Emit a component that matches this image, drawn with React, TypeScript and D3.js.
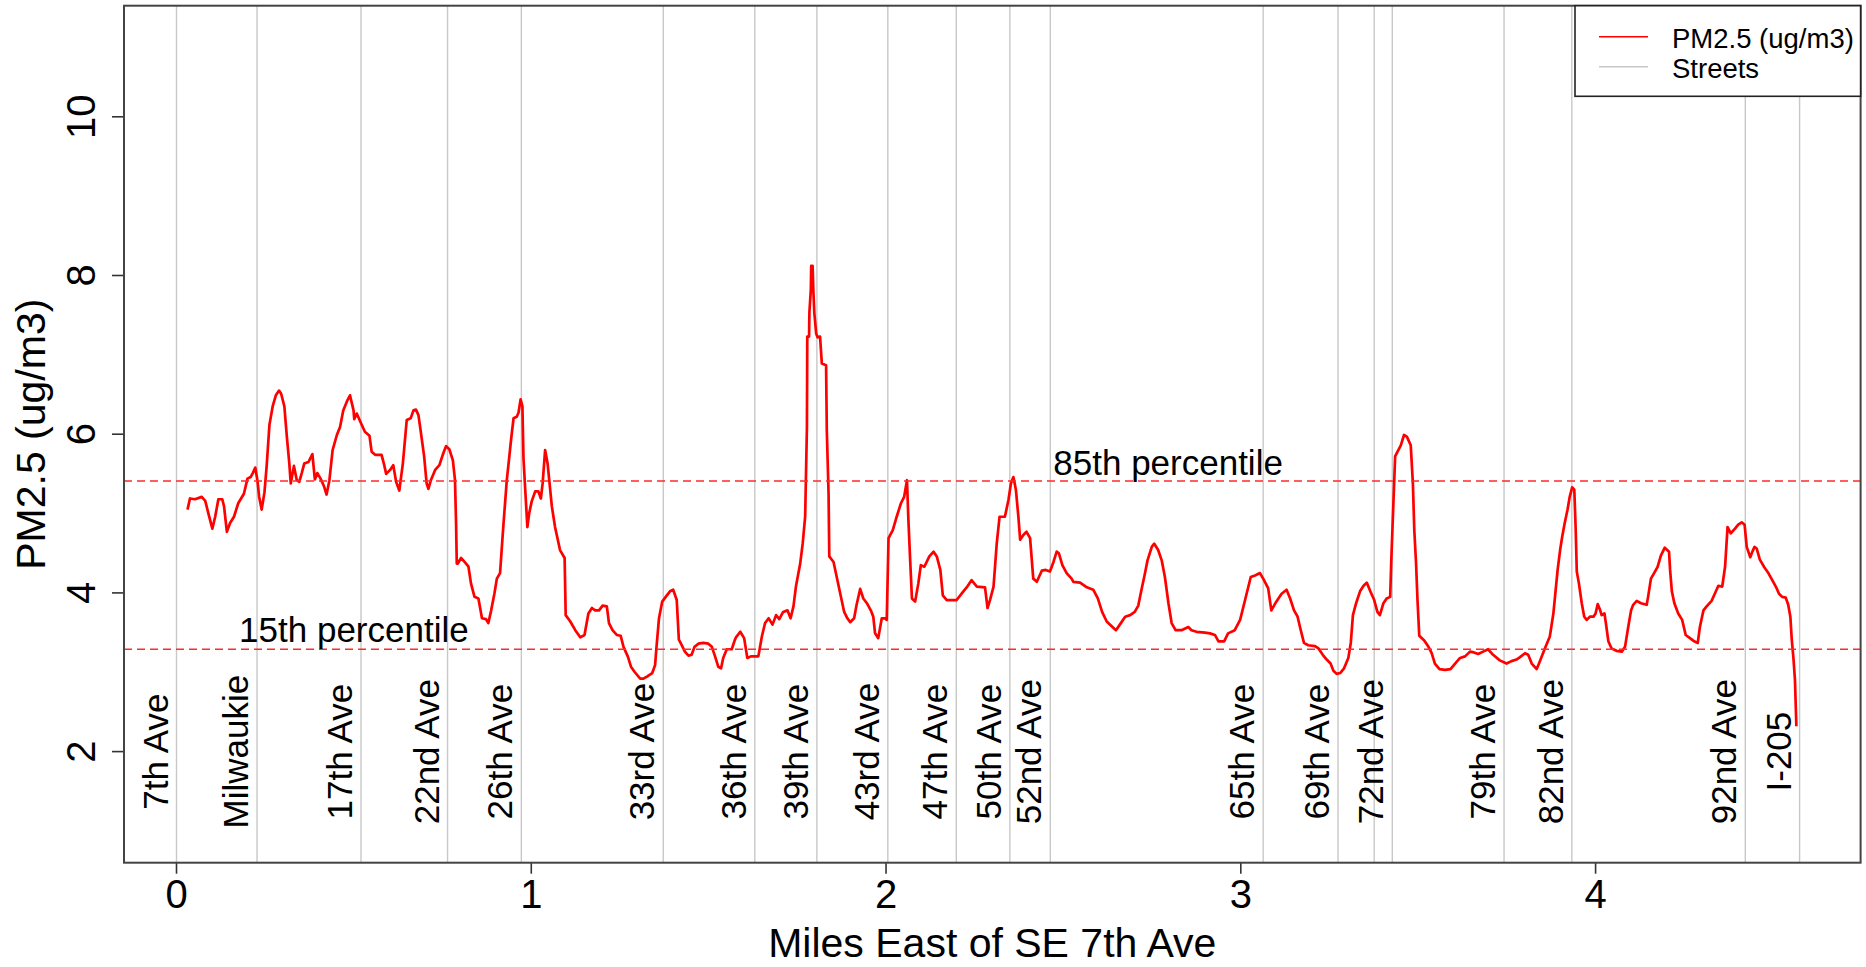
import React from 'react';
import * as d3 from 'd3';

// distance along the route (miles east of SE 7th Ave) and PM2.5 readings
const distMiles = [
  0.031, 0.038, 0.052, 0.071, 0.081, 0.090, 0.101, 0.109, 0.118, 0.129, 0.134, 0.142, 0.151, 0.162, 0.174, 0.190,
  0.200, 0.209, 0.215, 0.222, 0.228, 0.233, 0.240, 0.248, 0.254, 0.262, 0.271, 0.280, 0.289, 0.295, 0.304, 0.311,
  0.318, 0.322, 0.331, 0.339, 0.346, 0.353, 0.360, 0.372, 0.383, 0.390, 0.397, 0.406, 0.416, 0.423, 0.431, 0.440,
  0.452, 0.461, 0.470, 0.482, 0.489, 0.499, 0.501, 0.508, 0.522, 0.531, 0.544, 0.550, 0.560, 0.578, 0.585, 0.591,
  0.602, 0.611, 0.619, 0.628, 0.638, 0.649, 0.660, 0.668, 0.675, 0.682, 0.688, 0.698, 0.705, 0.710, 0.717, 0.729,
  0.741, 0.752, 0.760, 0.769, 0.779, 0.785, 0.788, 0.790, 0.793, 0.802, 0.812, 0.823, 0.830, 0.840, 0.851, 0.861,
  0.872, 0.879, 0.887, 0.896, 0.903, 0.912, 0.921, 0.931, 0.936, 0.943, 0.950, 0.959, 0.964, 0.970, 0.975, 0.978,
  0.983, 0.989, 0.994, 1.001, 1.011, 1.020, 1.027, 1.032, 1.039, 1.046, 1.058, 1.067, 1.081, 1.094, 1.097, 1.110,
  1.124, 1.138, 1.150, 1.161, 1.171, 1.180, 1.191, 1.201, 1.213, 1.219, 1.229, 1.241, 1.252, 1.260, 1.272, 1.281,
  1.292, 1.307, 1.316, 1.328, 1.341, 1.349, 1.353, 1.360, 1.369, 1.379, 1.391, 1.400, 1.410, 1.416, 1.423, 1.433,
  1.443, 1.452, 1.460, 1.471, 1.485, 1.499, 1.509, 1.518, 1.527, 1.535, 1.541, 1.551, 1.565, 1.574, 1.577, 1.589,
  1.600, 1.609, 1.619, 1.640, 1.650, 1.659, 1.669, 1.680, 1.690, 1.699, 1.710, 1.722, 1.731, 1.739, 1.746, 1.758,
  1.765, 1.772, 1.777, 1.778, 1.783, 1.784, 1.788, 1.789, 1.793, 1.795, 1.798, 1.803, 1.807, 1.814, 1.819, 1.831,
  1.833, 1.838, 1.840, 1.852, 1.861, 1.871, 1.882, 1.891, 1.899, 1.910, 1.917, 1.927, 1.936, 1.946, 1.957, 1.964,
  1.969, 1.978, 1.988, 1.997, 2.002, 2.007, 2.019, 2.030, 2.042, 2.051, 2.059, 2.063, 2.068, 2.073, 2.082, 2.091,
  2.098, 2.108, 2.122, 2.134, 2.143, 2.153, 2.160, 2.171, 2.199, 2.218, 2.229, 2.241, 2.256, 2.279, 2.286, 2.293,
  2.303, 2.312, 2.320, 2.335, 2.345, 2.352, 2.359, 2.366, 2.373, 2.378, 2.387, 2.396, 2.406, 2.415, 2.425, 2.439,
  2.450, 2.462, 2.472, 2.481, 2.487, 2.497, 2.509, 2.523, 2.528, 2.547, 2.566, 2.584, 2.597, 2.609, 2.622, 2.636,
  2.648, 2.659, 2.674, 2.688, 2.701, 2.711, 2.720, 2.730, 2.737, 2.749, 2.756, 2.767, 2.777, 2.786, 2.796, 2.805,
  2.816, 2.833, 2.852, 2.861, 2.875, 2.899, 2.913, 2.927, 2.937, 2.953, 2.964, 2.983, 2.998, 3.012, 3.028, 3.040,
  3.054, 3.063, 3.077, 3.086, 3.100, 3.115, 3.129, 3.139, 3.150, 3.160, 3.169, 3.178, 3.190, 3.209, 3.219, 3.231,
  3.242, 3.253, 3.261, 3.270, 3.280, 3.291, 3.303, 3.310, 3.316, 3.325, 3.336, 3.346, 3.355, 3.365, 3.376, 3.385,
  3.392, 3.402, 3.411, 3.421, 3.424, 3.428, 3.435, 3.444, 3.451, 3.460, 3.468, 3.479, 3.485, 3.489, 3.494, 3.498,
  3.503, 3.517, 3.529, 3.538, 3.547, 3.560, 3.576, 3.591, 3.604, 3.618, 3.632, 3.646, 3.657, 3.669, 3.683, 3.697,
  3.711, 3.730, 3.749, 3.763, 3.777, 3.787, 3.801, 3.810, 3.820, 3.834, 3.843, 3.857, 3.871, 3.881, 3.893, 3.900,
  3.906, 3.913, 3.921, 3.927, 3.934, 3.940, 3.944, 3.947, 3.953, 3.961, 3.968, 3.975, 3.984, 3.994, 4.000, 4.006,
  4.013, 4.017, 4.025, 4.029, 4.036, 4.045, 4.059, 4.074, 4.083, 4.092, 4.100, 4.106, 4.116, 4.128, 4.144, 4.148,
  4.156, 4.165, 4.175, 4.184, 4.195, 4.207, 4.210, 4.215, 4.222, 4.233, 4.244, 4.254, 4.266, 4.278, 4.288, 4.294,
  4.304, 4.313, 4.327, 4.336, 4.346, 4.357, 4.365, 4.372, 4.381, 4.393, 4.402, 4.412, 4.420, 4.426, 4.436, 4.442,
  4.448, 4.454, 4.463, 4.476, 4.487, 4.498, 4.508, 4.517, 4.526, 4.536, 4.543, 4.549, 4.553, 4.558, 4.562, 4.564,
  4.566,
];

const pm25 = [
  5.05, 5.19, 5.18, 5.21, 5.16, 5.00, 4.81, 4.96, 5.18, 5.18, 5.09, 4.77, 4.88, 4.96, 5.13, 5.25,
  5.44, 5.46, 5.51, 5.58, 5.42, 5.21, 5.05, 5.27, 5.59, 6.12, 6.35, 6.49, 6.55, 6.51, 6.35, 5.97,
  5.63, 5.38, 5.60, 5.42, 5.40, 5.51, 5.63, 5.65, 5.75, 5.43, 5.51, 5.44, 5.34, 5.24, 5.42, 5.80,
  5.99, 6.09, 6.30, 6.43, 6.49, 6.30, 6.19, 6.26, 6.12, 6.03, 5.98, 5.78, 5.74, 5.74, 5.62, 5.50,
  5.55, 5.61, 5.40, 5.29, 5.63, 6.18, 6.20, 6.30, 6.31, 6.24, 6.05, 5.72, 5.38, 5.31, 5.42, 5.55,
  5.61, 5.76, 5.85, 5.81, 5.67, 5.42, 4.88, 4.37, 4.37, 4.44, 4.39, 4.33, 4.12, 3.95, 3.93, 3.68,
  3.67, 3.62, 3.78, 3.99, 4.18, 4.25, 4.83, 5.42, 5.63, 5.93, 6.20, 6.22, 6.27, 6.44, 6.35, 5.70,
  5.30, 4.83, 5.00, 5.15, 5.28, 5.28, 5.19, 5.38, 5.80, 5.63, 5.09, 4.83, 4.54, 4.44, 3.72, 3.64,
  3.53, 3.44, 3.47, 3.74, 3.81, 3.78, 3.78, 3.84, 3.83, 3.62, 3.53, 3.47, 3.46, 3.32, 3.20, 3.07,
  3.00, 2.92, 2.92, 2.95, 2.99, 3.09, 3.32, 3.68, 3.89, 3.95, 4.02, 4.04, 3.91, 3.41, 3.35, 3.26,
  3.21, 3.22, 3.32, 3.36, 3.37, 3.36, 3.32, 3.20, 3.07, 3.05, 3.18, 3.29, 3.29, 3.41, 3.44, 3.51,
  3.43, 3.18, 3.20, 3.20, 3.45, 3.62, 3.68, 3.60, 3.72, 3.67, 3.76, 3.78, 3.68, 3.83, 4.08, 4.37,
  4.62, 4.96, 6.09, 7.23, 7.23, 7.54, 7.82, 8.12, 8.12, 7.82, 7.52, 7.27, 7.22, 7.23, 6.89, 6.87,
  6.05, 5.25, 4.46, 4.39, 4.20, 3.99, 3.76, 3.68, 3.63, 3.68, 3.85, 4.05, 3.93, 3.87, 3.78, 3.70,
  3.49, 3.43, 3.68, 3.68, 3.66, 4.69, 4.79, 4.96, 5.13, 5.21, 5.42, 4.92, 4.41, 3.93, 3.89, 4.12,
  4.35, 4.33, 4.46, 4.52, 4.46, 4.29, 3.97, 3.91, 3.91, 4.02, 4.08, 4.16, 4.08, 4.07, 3.81, 3.91,
  4.08, 4.62, 4.96, 4.96, 5.17, 5.38, 5.46, 5.30, 4.96, 4.67, 4.73, 4.77, 4.69, 4.18, 4.14, 4.28,
  4.29, 4.27, 4.39, 4.52, 4.50, 4.35, 4.25, 4.18, 4.14, 4.13, 4.07, 4.04, 3.93, 3.76, 3.64, 3.58,
  3.53, 3.60, 3.70, 3.72, 3.76, 3.84, 4.04, 4.25, 4.41, 4.58, 4.62, 4.54, 4.41, 4.20, 3.87, 3.62,
  3.53, 3.53, 3.57, 3.53, 3.51, 3.50, 3.49, 3.47, 3.39, 3.39, 3.49, 3.53, 3.66, 3.91, 4.20, 4.22,
  4.25, 4.18, 4.06, 3.78, 3.89, 3.99, 4.04, 3.93, 3.78, 3.70, 3.53, 3.37, 3.34, 3.33, 3.30, 3.22,
  3.16, 3.11, 3.02, 2.98, 2.99, 3.05, 3.18, 3.37, 3.72, 3.87, 4.02, 4.09, 4.13, 4.02, 3.91, 3.76,
  3.72, 3.87, 3.93, 3.95, 4.39, 4.88, 5.72, 5.80, 5.86, 5.99, 5.97, 5.86, 5.38, 4.79, 4.37, 3.91,
  3.46, 3.40, 3.32, 3.24, 3.11, 3.04, 3.03, 3.04, 3.11, 3.18, 3.20, 3.26, 3.25, 3.23, 3.26, 3.29,
  3.22, 3.15, 3.11, 3.14, 3.16, 3.19, 3.24, 3.22, 3.11, 3.04, 3.14, 3.30, 3.45, 3.74, 4.29, 4.54,
  4.71, 4.88, 5.05, 5.21, 5.33, 5.30, 4.79, 4.27, 4.12, 3.87, 3.70, 3.66, 3.70, 3.70, 3.74, 3.86,
  3.78, 3.72, 3.74, 3.62, 3.39, 3.30, 3.27, 3.26, 3.32, 3.57, 3.78, 3.85, 3.90, 3.87, 3.85, 3.95,
  4.18, 4.25, 4.33, 4.47, 4.57, 4.52, 4.29, 4.02, 3.87, 3.74, 3.66, 3.47, 3.43, 3.39, 3.37, 3.57,
  3.78, 3.83, 3.90, 3.99, 4.09, 4.08, 4.33, 4.83, 4.75, 4.81, 4.86, 4.89, 4.86, 4.58, 4.45, 4.52,
  4.58, 4.56, 4.42, 4.32, 4.25, 4.16, 4.08, 3.99, 3.95, 3.94, 3.85, 3.70, 3.41, 3.16, 2.90, 2.61,
  2.32,
];

const streetMiles = [0, 0.227, 0.52, 0.764, 0.972, 1.372, 1.63, 1.805, 2.005, 2.198, 2.349, 2.463, 3.063, 3.274, 3.376, 3.427, 3.742, 3.933, 4.422, 4.575];
const streetNames = ['7th Ave', 'Milwaukie', '17th Ave', '22nd Ave', '26th Ave', '33rd Ave', '36th Ave', '39th Ave', '43rd Ave', '47th Ave', '50th Ave', '52nd Ave', '65th Ave', '69th Ave', '', '72nd Ave', '79th Ave', '82nd Ave', '92nd Ave', 'I-205'];

const xTicks = [0, 1, 2, 3, 4];
const yTicks = [2, 4, 6, 8, 10];
const pct15 = 3.29;
const pct85 = 5.41;

const W = 1866;
const H = 967;
const margin = { left: 124, right: 5.4, top: 5.7, bottom: 104.3 };
const font = 'Liberation Sans, Arial, sans-serif';

export default function App() {
  const x = d3.scaleLinear().domain([-0.148, 4.747]).range([margin.left, W - margin.right]);
  const y = d3.scaleLinear().domain([0.6, 11.4]).range([H - margin.bottom, margin.top]);
  const [x0, x1] = x.range();
  const [yb, yt] = y.range();

  const pts: [number, number][] = distMiles.map((d, i) => [d, pm25[i]]);
  const line = d3.line<[number, number]>()
    .x(d => x(d[0]))
    .y(d => y(d[1]));

  const cx = (x0 + x1) / 2;
  const cy = (yb + yt) / 2;

  // legend box
  const lg = { x: 1575, y: yt, w: x1 - 1575, h: 90.6 };

  return (
    <div>
      <style>{'body{margin:0;overflow:hidden;background:#fff}'}</style>
      <svg width={W} height={H} style={{ display: 'block', fontFamily: font }}>
        <rect width={W} height={H} fill="#fff" />

        {streetMiles.map((m, i) => (
          <line key={'s' + i} x1={x(m)} x2={x(m)} y1={yt} y2={yb} stroke="#c8c8c8" strokeWidth={1.4} />
        ))}

        <path d={line(pts) || ''} fill="none" stroke="#ff0000" strokeWidth={2.7} strokeLinejoin="round" />

        {[pct15, pct85].map((p, i) => (
          <line key={'p' + i} x1={x0} x2={x1} y1={y(p)} y2={y(p)} stroke="#ff2a2a" strokeWidth={1.4} strokeDasharray="8,5" />
        ))}
        <text x={x(0.5)} y={y(pct15) - 7} textAnchor="middle" fontSize={35} fill="#000">15th percentile</text>
        <text x={x(2.795)} y={y(pct85) - 6} textAnchor="middle" fontSize={35} fill="#000">85th percentile</text>

        {streetMiles.map((m, i) => (
          <text key={'n' + i} transform={`translate(${x(m) - 9},${y(2)}) rotate(-90)`} textAnchor="middle" fontSize={35} fill="#000">
            {streetNames[i]}
          </text>
        ))}

        {/* axes */}
        {xTicks.map(t => (
          <g key={'xt' + t}>
            <line x1={x(t)} x2={x(t)} y1={yb} y2={yb + 11} stroke="#333" strokeWidth={1.6} />
            <text x={x(t)} y={yb + 45.5} textAnchor="middle" fontSize={40} fill="#000">{t}</text>
          </g>
        ))}
        {yTicks.map(t => (
          <g key={'yt' + t}>
            <line x1={x0 - 12} x2={x0} y1={y(t)} y2={y(t)} stroke="#333" strokeWidth={1.6} />
            <text transform={`translate(${x0 - 29},${y(t)}) rotate(-90)`} textAnchor="middle" fontSize={40} fill="#000">{t}</text>
          </g>
        ))}
        <text x={cx} y={957} textAnchor="middle" fontSize={41} fill="#000">Miles East of SE 7th Ave</text>
        <text transform={`translate(44.5,${cy}) rotate(-90)`} textAnchor="middle" fontSize={41} fill="#000">PM2.5 (ug/m3)</text>

        <rect x={x0} y={yt} width={x1 - x0} height={yb - yt} fill="none" stroke="#444" strokeWidth={2} />

        {/* legend */}
        <rect x={lg.x} y={lg.y} width={lg.w} height={lg.h} fill="#fff" stroke="#222" strokeWidth={1.6} />
        <line x1={1599} x2={1648} y1={36.7} y2={36.7} stroke="#ff0000" strokeWidth={1.6} />
        <line x1={1599} x2={1648} y1={66.7} y2={66.7} stroke="#c8c8c8" strokeWidth={1.6} />
        <text x={1672} y={48.3} fontSize={27.5} fill="#000">PM2.5 (ug/m3)</text>
        <text x={1672} y={77.6} fontSize={27.5} fill="#000">Streets</text>
      </svg>
    </div>
  );
}
